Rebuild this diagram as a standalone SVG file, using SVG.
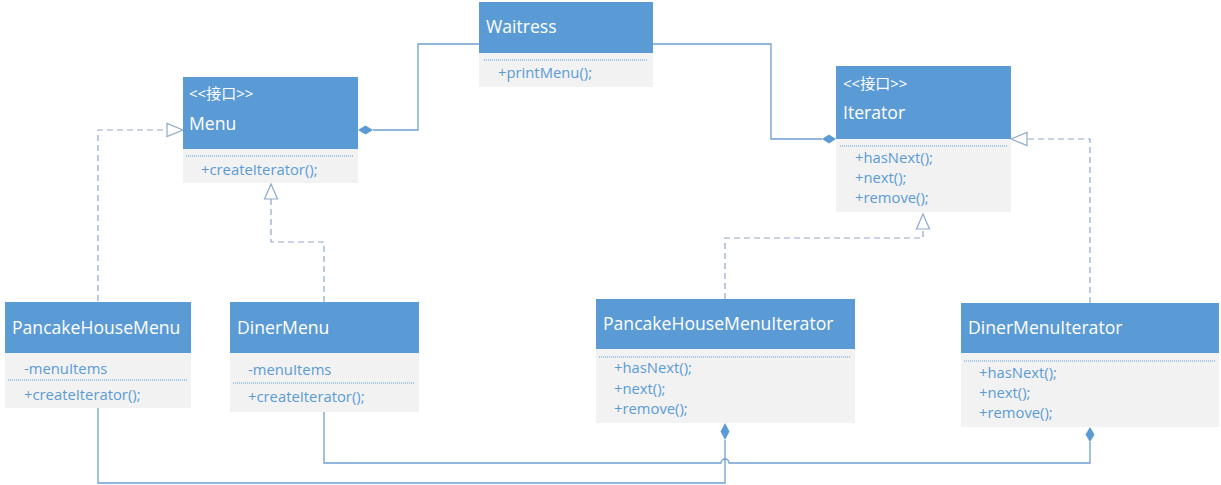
<svg xmlns="http://www.w3.org/2000/svg" width="1221" height="485" viewBox="0 0 1221 485">
<style>
.hd{fill:#5b9bd5}
.bd{fill:#f2f2f2}
.sep{stroke:#5b9bd5;stroke-width:1;stroke-dasharray:1 1;fill:none}
.t{font-family:"Open Sans","Noto Sans","Noto Sans CJK SC",sans-serif;fill:#ffffff;font-size:17.6px}
.s{font-family:"Open Sans","Noto Sans","Noto Sans CJK SC",sans-serif;fill:#ffffff;font-size:15px}
.m{font-family:"Open Sans","Noto Sans",sans-serif;fill:#5b9bd5;font-size:14.8px}
.c{stroke:#6f9fd0;stroke-width:1.3;fill:none}
.d{stroke:#8fa9c8;stroke-width:1.2;stroke-dasharray:6 4;fill:none}
.dia{fill:#5b9bd5;stroke:none}
.tri{fill:#ffffff;stroke:#8fa9c8;stroke-width:1.2}
</style>
<rect width="1221" height="485" fill="#ffffff"/>
<g id="connectors">
  <polyline class="c" points="373,130 418,130 418,44 479,44"/>
  <polygon class="dia" points="358,130 365.5,125.5 373,130 365.5,134.5"/>
  <polyline class="c" points="653,44 771,44 771,139 822,139"/>
  <polygon class="dia" points="822,139 829,134.5 836,139 829,143.5"/>
  <polyline class="c" points="98,408 98,483 725,483 725,440"/>
  <polygon class="dia" points="725,423 729.5,431.5 725,440 720.5,431.5"/>
  <path class="c" d="M324,412 V463 H721 A4,4 0 0 1 729,463 H1090 V442"/>
  <polygon class="dia" points="1090,427 1094.5,434.5 1090,442 1085.5,434.5"/>
  <polyline class="d" points="98,301 98,130 167,130"/>
  <polygon class="tri" points="183,130 167,123.5 167,136.5"/>
  <polyline class="d" points="324,302 324,242 271,242 271,199"/>
  <polygon class="tri" points="271,184 264.5,199 277.5,199"/>
  <polyline class="d" points="725,299 725,238 923,238 923,229"/>
  <polygon class="tri" points="923,214 916.5,229 929.5,229"/>
  <polyline class="d" points="1090,303 1090,139 1027,139"/>
  <polygon class="tri" points="1011,139 1027,132.5 1027,145.5"/>
</g>
<g id="Waitress">
  <rect class="bd" x="479" y="53" width="174" height="34"/>
  <rect class="hd" x="479" y="2" width="174" height="51"/>
  <line class="sep" x1="484" y1="60" x2="648" y2="60"/>
  <text class="t" x="486" y="33">Waitress</text>
  <text class="m" x="498" y="78">+printMenu();</text>
</g>
<g id="Menu">
  <rect class="bd" x="183" y="149" width="175" height="34"/>
  <rect class="hd" x="183" y="77" width="175" height="72"/>
  <line class="sep" x1="186" y1="156" x2="354" y2="156"/>
  <text class="s" x="189" y="99">&lt;&lt;接口&gt;&gt;</text>
  <text class="t" x="189" y="130">Menu</text>
  <text class="m" x="201" y="175">+createIterator();</text>
</g>
<g id="Iterator">
  <rect class="bd" x="836" y="139" width="175" height="73"/>
  <rect class="hd" x="836" y="66" width="175" height="73"/>
  <line class="sep" x1="840" y1="146" x2="1007" y2="146"/>
  <text class="s" x="843" y="89">&lt;&lt;接口&gt;&gt;</text>
  <text class="t" x="843" y="119">Iterator</text>
  <text class="m" x="855" y="163">+hasNext();</text>
  <text class="m" x="855" y="183">+next();</text>
  <text class="m" x="855" y="203">+remove();</text>
</g>
<g id="PancakeHouseMenu">
  <rect class="bd" x="5" y="353" width="186" height="55"/>
  <rect class="hd" x="5" y="302" width="186" height="51"/>
  <line class="sep" x1="8" y1="380" x2="188" y2="380"/>
  <text class="t" x="12" y="334">PancakeHouseMenu</text>
  <text class="m" x="24" y="374">-menuItems</text>
  <text class="m" x="24" y="400">+createIterator();</text>
</g>
<g id="DinerMenu">
  <rect class="bd" x="230" y="353" width="189" height="59"/>
  <rect class="hd" x="230" y="302" width="189" height="51"/>
  <line class="sep" x1="233" y1="383" x2="415" y2="383"/>
  <text class="t" x="237" y="334">DinerMenu</text>
  <text class="m" x="248" y="375">-menuItems</text>
  <text class="m" x="248" y="402">+createIterator();</text>
</g>
<g id="PancakeHouseMenuIterator">
  <rect class="bd" x="596" y="349" width="259" height="74"/>
  <rect class="hd" x="596" y="299" width="259" height="50"/>
  <line class="sep" x1="599" y1="357" x2="851" y2="357"/>
  <text class="t" x="603" y="330">PancakeHouseMenuIterator</text>
  <text class="m" x="614" y="373">+hasNext();</text>
  <text class="m" x="614" y="394">+next();</text>
  <text class="m" x="614" y="414">+remove();</text>
</g>
<g id="DinerMenuIterator">
  <rect class="bd" x="961" y="353" width="258" height="74"/>
  <rect class="hd" x="961" y="303" width="258" height="50"/>
  <line class="sep" x1="964" y1="361" x2="1215" y2="361"/>
  <text class="t" x="968" y="334">DinerMenuIterator</text>
  <text class="m" x="979" y="378">+hasNext();</text>
  <text class="m" x="979" y="398">+next();</text>
  <text class="m" x="979" y="418">+remove();</text>
</g>
</svg>
